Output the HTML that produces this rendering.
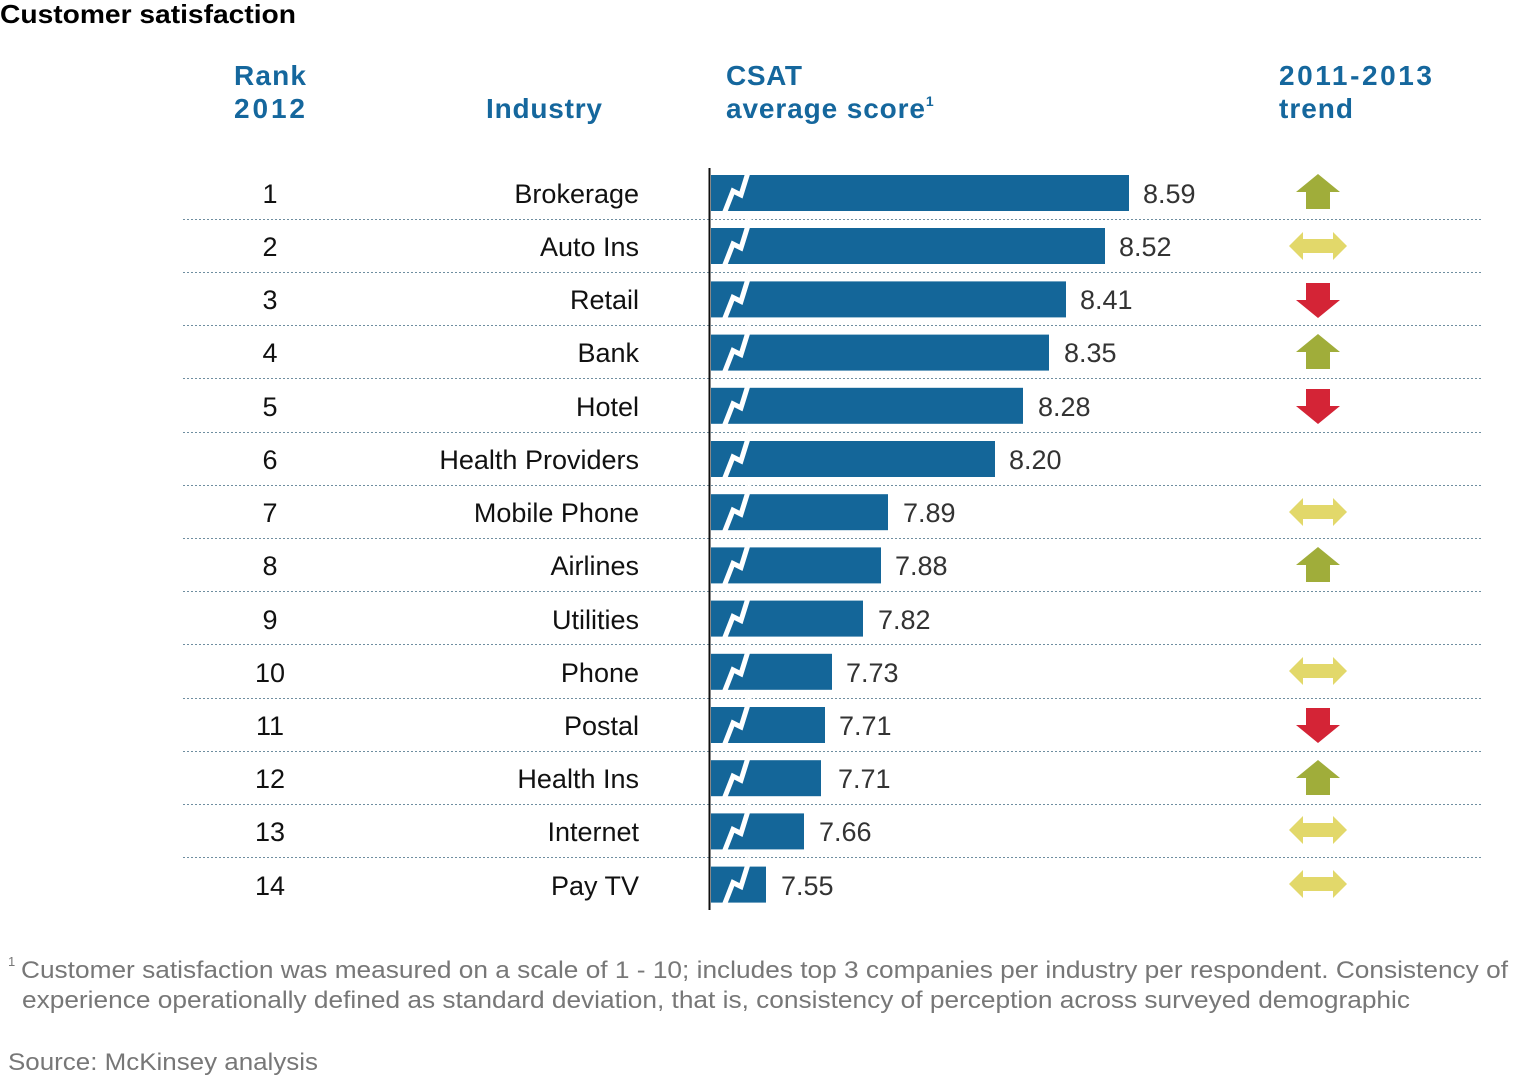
<!DOCTYPE html>
<html><head><meta charset="utf-8"><style>body{margin:0;background:#fff}svg{display:block}</style></head><body>
<svg width="1516" height="1076" viewBox="0 0 1516 1076" xmlns="http://www.w3.org/2000/svg" font-family="Liberation Sans, sans-serif">
<defs>
<path id="brk" d="M724,21 L733,-2 L741,2 L750,-27" fill="none" stroke="#fff" stroke-width="5"/>
<polygon id="up" points="-22,0 0,-18 22,0 12,0 12,17 -12,17 -12,0" fill="#a0ad3a"/>
<polygon id="dn" points="-22,0 0,18 22,0 12,0 12,-17 -12,-17 -12,0" fill="#d42436"/>
<polygon id="lr" points="-29,0 -15,-14 -15,-7 15,-7 15,-14 29,0 15,14 15,7 -15,7 -15,14" fill="#e2d86a"/>
</defs>
<text x="0" y="23" font-size="26" font-weight="bold" fill="#000" textLength="296" lengthAdjust="spacingAndGlyphs">Customer satisfaction</text>
<g font-size="28" font-weight="bold" fill="#15679d">
<text x="234" y="85" textLength="72">Rank</text><text x="234" y="118" textLength="71">2012</text>
<text x="486" y="118" textLength="116">Industry</text>
<text x="726" y="85" textLength="76">CSAT</text><text x="726" y="118"><tspan textLength="199">average score</tspan><tspan font-size="14" dy="-12">1</tspan></text>
<text x="1279" y="85" textLength="153">2011-2013</text><text x="1279" y="118" textLength="74">trend</text>
</g>
<g stroke="#6f8ea0" stroke-width="1" stroke-dasharray="2,2">
<line x1="183" x2="1482" y1="219.5" y2="219.5"/><line x1="183" x2="1482" y1="272.5" y2="272.5"/><line x1="183" x2="1482" y1="325.5" y2="325.5"/><line x1="183" x2="1482" y1="378.5" y2="378.5"/><line x1="183" x2="1482" y1="432.5" y2="432.5"/><line x1="183" x2="1482" y1="485.5" y2="485.5"/><line x1="183" x2="1482" y1="538.5" y2="538.5"/><line x1="183" x2="1482" y1="591.5" y2="591.5"/><line x1="183" x2="1482" y1="644.5" y2="644.5"/><line x1="183" x2="1482" y1="698.5" y2="698.5"/><line x1="183" x2="1482" y1="751.5" y2="751.5"/><line x1="183" x2="1482" y1="804.5" y2="804.5"/><line x1="183" x2="1482" y1="857.5" y2="857.5"/>
</g>
<g fill="#146699">
<rect x="711" y="175" width="418" height="36"/><rect x="711" y="228" width="394" height="36"/><rect x="711" y="281.4" width="355" height="36"/><rect x="711" y="334.6" width="338" height="36"/><rect x="711" y="387.8" width="312" height="36"/><rect x="711" y="441" width="284" height="36"/><rect x="711" y="494.2" width="177" height="36"/><rect x="711" y="547.4" width="170" height="36"/><rect x="711" y="600.6" width="152" height="36"/><rect x="711" y="653.8" width="121" height="36"/><rect x="711" y="707" width="114" height="36"/><rect x="711" y="760.2" width="110" height="36"/><rect x="711" y="813.4" width="93" height="36"/><rect x="711" y="866.6" width="55" height="36"/>
</g>
<g>
<use href="#brk" y="193"/><use href="#brk" y="246"/><use href="#brk" y="299.4"/><use href="#brk" y="352.6"/><use href="#brk" y="405.8"/><use href="#brk" y="459"/><use href="#brk" y="512.2"/><use href="#brk" y="565.4"/><use href="#brk" y="618.6"/><use href="#brk" y="671.8"/><use href="#brk" y="725"/><use href="#brk" y="778.2"/><use href="#brk" y="831.4"/><use href="#brk" y="884.6"/>
</g>
<line x1="709.5" x2="709.5" y1="168" y2="910" stroke="#111" stroke-width="2"/>
<g font-size="27" fill="#111" text-anchor="middle">
<text x="270" y="203">1</text><text x="270" y="256">2</text><text x="270" y="309">3</text><text x="270" y="362">4</text><text x="270" y="416">5</text><text x="270" y="469">6</text><text x="270" y="522">7</text><text x="270" y="575">8</text><text x="270" y="629">9</text><text x="270" y="682">10</text><text x="270" y="735">11</text><text x="270" y="788">12</text><text x="270" y="841">13</text><text x="270" y="895">14</text>
</g>
<g font-size="27" fill="#111" text-anchor="end">
<text x="639" y="203">Brokerage</text><text x="639" y="256">Auto Ins</text><text x="639" y="309">Retail</text><text x="639" y="362">Bank</text><text x="639" y="416">Hotel</text><text x="639" y="469">Health Providers</text><text x="639" y="522">Mobile Phone</text><text x="639" y="575">Airlines</text><text x="639" y="629">Utilities</text><text x="639" y="682">Phone</text><text x="639" y="735">Postal</text><text x="639" y="788">Health Ins</text><text x="639" y="841">Internet</text><text x="639" y="895">Pay TV</text>
</g>
<g font-size="27" fill="#333">
<text x="1143" y="203">8.59</text><text x="1119" y="256">8.52</text><text x="1080" y="309">8.41</text><text x="1064" y="362">8.35</text><text x="1038" y="416">8.28</text><text x="1009" y="469">8.20</text><text x="903" y="522">7.89</text><text x="895" y="575">7.88</text><text x="878" y="629">7.82</text><text x="846" y="682">7.73</text><text x="839" y="735">7.71</text><text x="838" y="788">7.71</text><text x="819" y="841">7.66</text><text x="781" y="895">7.55</text>
</g>
<g>
<use href="#up" x="1318" y="192"/><use href="#lr" x="1318" y="246"/><use href="#dn" x="1318" y="300"/><use href="#up" x="1318" y="352"/><use href="#dn" x="1318" y="406"/><use href="#lr" x="1318" y="512"/><use href="#up" x="1318" y="565"/><use href="#lr" x="1318" y="671"/><use href="#dn" x="1318" y="725"/><use href="#up" x="1318" y="778"/><use href="#lr" x="1318" y="830"/><use href="#lr" x="1318" y="884"/>
</g>
<g font-size="24" fill="#777">
<text x="8" y="966" font-size="13">1</text>
<text x="21" y="978" textLength="1487" lengthAdjust="spacingAndGlyphs">Customer satisfaction was measured on a scale of 1 - 10; includes top 3 companies per industry per respondent. Consistency of</text>
<text x="22" y="1008" textLength="1388" lengthAdjust="spacingAndGlyphs">experience operationally defined as standard deviation, that is, consistency of perception across surveyed demographic</text>
<text x="8" y="1070" textLength="310" lengthAdjust="spacingAndGlyphs">Source: McKinsey analysis</text>
</g>
</svg>
</body></html>
